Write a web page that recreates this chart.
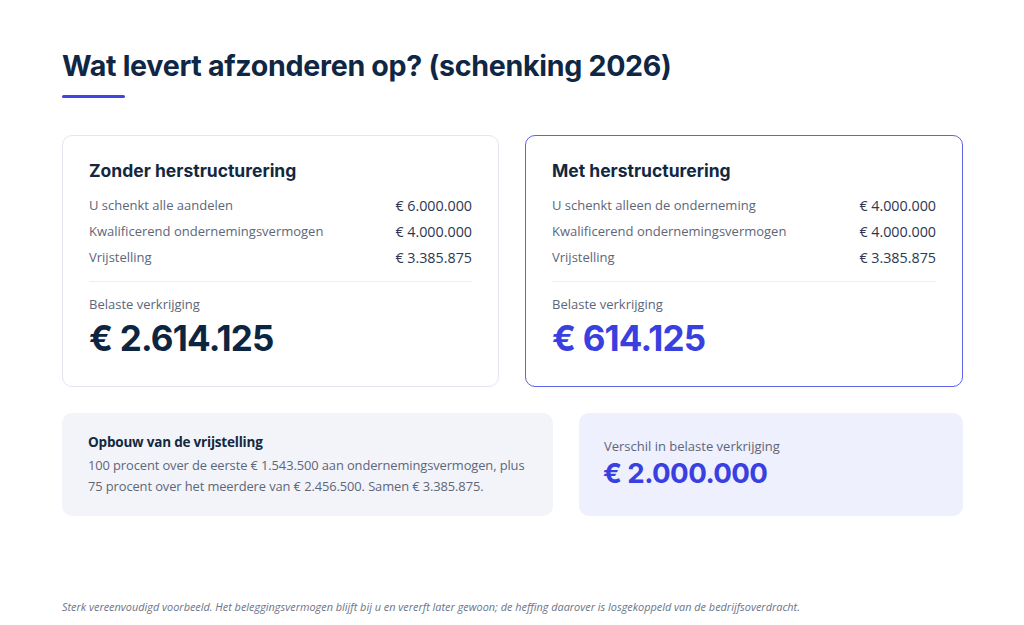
<!DOCTYPE html>
<html lang="nl">
<head>
<meta charset="utf-8">
<script src="https://cdn.jsdelivr.net/npm/chart.js@4/dist/chart.umd.min.js"></script>
<style>
  html, body { margin: 0; padding: 0; background: #ffffff; }
  body { width: 1024px; height: 625px; position: relative; overflow: hidden; font-family: "Open Sans", "Noto Sans", sans-serif; color: #0f2a44; }
  .title { position: absolute; left: 62px; top: 48px; font-family: Inter, sans-serif; font-weight: 700; font-size: 28.6px; letter-spacing: -0.3px; color: #0f2744; white-space: nowrap; }
  .accent { position: absolute; left: 62px; top: 95px; width: 63px; height: 3px; border-radius: 2px; background: #3d45e3; }
  .card { position: absolute; top: 135px; height: 252px; box-sizing: border-box; border-radius: 10px; background: #fff; }
  .card.c1 { left: 62px; width: 437px; border: 1px solid #e3e6ee; }
  .card.c2 { left: 525px; width: 438px; border: 1.5px solid #5b63e8; }
  .card h3 { position: absolute; left: 26px; top: 24px; margin: 0; font-family: Inter, sans-serif; font-weight: 700; font-size: 17.5px; color: #12283f; white-space: nowrap; }
  .row { position: absolute; left: 26px; right: 26px; height: 20px; font-size: 13px; color: #5d6679; display: flex; justify-content: space-between; align-items: center; }
  .row .v { color: #2a3850; font-size: 14.3px; }
  .divider { position: absolute; left: 26px; right: 26px; top: 145px; height: 1px; background: #eceef3; }
  .blabel { position: absolute; left: 26px; top: 159px; font-size: 13px; color: #5d6679; }
  .big { position: absolute; left: 26px; top: 181px; font-family: Inter, sans-serif; font-weight: 700; font-size: 35px; letter-spacing: -0.8px; white-space: nowrap; }
  .c1 .big { color: #0d2540; }
  .c2 .big { color: #3a40e0; }
  .box { position: absolute; top: 413px; height: 103px; border-radius: 10px; box-sizing: border-box; }
  .box.b1 { left: 62px; width: 491px; background: #f3f4f9; }
  .box.b2 { left: 579px; width: 384px; background: #eef0fd; }
  .b1 h4 { position: absolute; left: 26px; top: 20px; margin: 0; font-family: "Open Sans", sans-serif; font-weight: 700; font-size: 13.5px; color: #12283f; letter-spacing: -0.2px; }
  .b1 p { position: absolute; left: 26px; top: 42px; margin: 0; font-size: 12.9px; line-height: 21px; color: #5d6679; width: 460px; letter-spacing: -0.1px; white-space: nowrap; }
  .b2 .lab { position: absolute; left: 25px; top: 24px; font-size: 13px; color: #5d6679; }
  .b2 .num { position: absolute; left: 24px; top: 43px; font-family: Inter, sans-serif; font-weight: 700; font-size: 27.7px; letter-spacing: -0.6px; color: #3a40e0; }
  .foot { position: absolute; left: 62px; top: 599px; font-style: italic; font-size: 10.9px; color: #6b7488; white-space: nowrap; }
</style>
</head>
<body>
<div class="title" id="title"></div>
<div class="accent"></div>
<div class="card c1" id="card1"></div>
<div class="card c2" id="card2"></div>
<div class="box b1" id="box1"></div>
<div class="box b2" id="box2"></div>
<div class="foot" id="foot"></div>
<script>
const titleText = "Wat levert afzonderen op? (schenking 2026)";
const scenarioTitles = ["Zonder herstructurering", "Met herstructurering"];
const rowLabels1 = ["U schenkt alle aandelen", "Kwalificerend ondernemingsvermogen", "Vrijstelling"];
const rowLabels2 = ["U schenkt alleen de onderneming", "Kwalificerend ondernemingsvermogen", "Vrijstelling"];
const rowValues1 = [6000000, 4000000, 3385875];
const rowValues2 = [4000000, 4000000, 3385875];
const taxedLabel = "Belaste verkrijging";
const taxedValues = [2614125, 614125];
const buildTitle = "Opbouw van de vrijstelling";
const buildLines = ["100 procent over de eerste € 1.543.500 aan ondernemingsvermogen, plus", "75 procent over het meerdere van € 2.456.500. Samen € 3.385.875."];
const diffLabel = "Verschil in belaste verkrijging";
const diffValue = 2000000;
const footText = "Sterk vereenvoudigd voorbeeld. Het beleggingsvermogen blijft bij u en vererft later gewoon; de heffing daarover is losgekoppeld van de bedrijfsoverdracht.";

function eur(n) { return "€ " + n.toLocaleString("de-DE"); }

document.getElementById("title").textContent = titleText;
function fillCard(id, t, labels, values, taxed) {
  const el = document.getElementById(id);
  let html = '<h3>' + t + '</h3>';
  const tops = [59, 85, 111];
  labels.forEach((l, i) => {
    html += '<div class="row" style="top:' + tops[i] + 'px"><span>' + l + '</span><span class="v">' + eur(values[i]) + '</span></div>';
  });
  html += '<div class="divider"></div><div class="blabel">' + taxedLabel + '</div><div class="big">' + eur(taxed) + '</div>';
  el.innerHTML = html;
}
fillCard("card1", scenarioTitles[0], rowLabels1, rowValues1, taxedValues[0]);
fillCard("card2", scenarioTitles[1], rowLabels2, rowValues2, taxedValues[1]);
document.getElementById("box1").innerHTML = '<h4>' + buildTitle + '</h4><p>' + buildLines.join('<br>') + '</p>';
document.getElementById("box2").innerHTML = '<div class="lab">' + diffLabel + '</div><div class="num">' + eur(diffValue) + '</div>';
document.getElementById("foot").textContent = footText;
</script>
</body>
</html>
